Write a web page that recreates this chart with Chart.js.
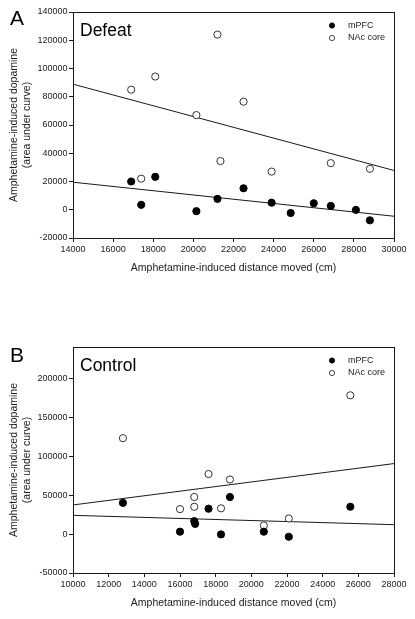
<!DOCTYPE html>
<html>
<head>
<meta charset="utf-8">
<script src="https://cdn.jsdelivr.net/npm/chart.js@4.4.1/dist/chart.umd.min.js"></script>
<style>
  html, body { margin: 0; padding: 0; background: #fff; }
  #wrap { position: relative; width: 415px; height: 619px; }
  canvas { position: absolute; left: 0; }
  #chartA { top: 0; }
  #chartB { top: 335px; }
</style>
</head>
<body>
<div id="wrap">
  <canvas id="chartA" width="415" height="284"></canvas>
  <canvas id="chartB" width="415" height="284"></canvas>
</div>
<script>
// panel A - Defeat
var defeatMpfcX = [16900, 17400, 18100, 20150, 21200, 22500, 23900, 24850, 26000, 26850, 28100, 28800];
var defeatMpfcY = [20000, 3500, 23300, -1000, 7700, 15200, 5000, -2300, 4600, 2700, -100, -7500];
var defeatNacX = [16900, 17400, 18100, 20150, 21200, 21350, 22500, 23900, 26850, 28800];
var defeatNacY = [85000, 22000, 94300, 67000, 124000, 34500, 76500, 27000, 33000, 29000];
var defeatMpfcFitX = [14000, 30000];
var defeatMpfcFitY = [19500, -4600];
var defeatNacFitX = [14000, 30000];
var defeatNacFitY = [88900, 27800];
var defeatXTicks = [14000, 16000, 18000, 20000, 22000, 24000, 26000, 28000, 30000];
var defeatYTicks = [-20000, 0, 20000, 40000, 60000, 80000, 100000, 120000, 140000];

// panel B - Control
var controlMpfcX = [12800, 16000, 16800, 16850, 17600, 18300, 18800, 20700, 22100, 25550];
var controlMpfcY = [40000, 3000, 16500, 13000, 32500, -500, 47500, 3000, -3500, 35000];
var controlNacX = [12800, 16000, 16800, 16800, 17600, 18300, 18800, 20700, 22100, 25550];
var controlNacY = [123000, 32000, 47500, 35000, 77000, 33000, 70000, 11000, 20000, 178000];
var controlMpfcFitX = [10000, 28000];
var controlMpfcFitY = [24000, 12000];
var controlNacFitX = [10000, 28000];
var controlNacFitY = [37300, 90400];
var controlXTicks = [10000, 12000, 14000, 16000, 18000, 20000, 22000, 24000, 26000, 28000];
var controlYTicks = [-50000, 0, 50000, 100000, 150000, 200000];

var seriesNames = ["mPFC", "NAc core"];
var xTitle = "Amphetamine-induced distance moved (cm)";
var yTitle = ["Amphetamine-induced dopamine", "(area under curve)"];

var FONT = "'Liberation Sans', Arial, sans-serif";
var INK = "#1a1a1a";

function pts(xs, ys) {
    return xs.map(function (x, i) { return { x: x, y: ys[i] }; });
}

// frame, panel letter, group name and the little legend
var panelDecor = {
    id: "panelDecor",
    beforeDatasetsDraw: function (chart) {
        var ctx = chart.ctx, a = chart.chartArea;
        ctx.save();
        ctx.strokeStyle = INK;
        ctx.lineWidth = 1;
        ctx.strokeRect(Math.round(a.left) + 0.5, Math.round(a.top) + 0.5,
            Math.round(a.right - a.left), Math.round(a.bottom - a.top));
        ctx.restore();
    },
    afterDraw: function (chart, args, o) {
        var ctx = chart.ctx, a = chart.chartArea;
        ctx.save();
        ctx.fillStyle = "#000";
        ctx.textBaseline = "alphabetic";
        ctx.textAlign = "left";
        ctx.font = "21px " + FONT;
        ctx.fillText(o.letter, 10, o.letterY);
        ctx.font = "17.5px " + FONT;
        ctx.fillText(o.name, a.left + 7, a.top + 24);

        // legend
        ctx.font = "9px " + FONT;
        ctx.textBaseline = "middle";
        var rows = [13.5, 26];
        for (var i = 0; i < 2; i++) {
            var ds = chart.data.datasets[i];
            var cy = a.top + rows[i];
            ctx.beginPath();
            ctx.arc(a.right - 62, cy, 2.6, 0, Math.PI * 2);
            ctx.fillStyle = ds.backgroundColor;
            ctx.fill();
            ctx.lineWidth = 0.9;
            ctx.strokeStyle = ds.borderColor;
            ctx.stroke();
            ctx.fillStyle = INK;
            ctx.fillText(ds.label, a.right - 46, cy);
        }
        ctx.restore();
    }
};

function makeChart(id, p) {
    var ctx = document.getElementById(id);
    return new Chart(ctx, {
        type: "scatter",
        data: {
            datasets: [
                {
                    label: seriesNames[0],
                    data: pts(p.mpfcX, p.mpfcY),
                    backgroundColor: "#000",
                    borderColor: "#000",
                    borderWidth: 1,
                    pointRadius: 3.6,
                    order: 1
                },
                {
                    label: seriesNames[1],
                    data: pts(p.nacX, p.nacY),
                    backgroundColor: "#fff",
                    borderColor: "#333",
                    borderWidth: 1,
                    pointRadius: 3.6,
                    order: 1
                },
                {
                    label: "mPFC fit",
                    data: pts(p.mpfcFitX, p.mpfcFitY),
                    showLine: true,
                    pointRadius: 0,
                    borderColor: INK,
                    borderWidth: 1,
                    order: 2
                },
                {
                    label: "NAc fit",
                    data: pts(p.nacFitX, p.nacFitY),
                    showLine: true,
                    pointRadius: 0,
                    borderColor: INK,
                    borderWidth: 1,
                    order: 2
                }
            ]
        },
        options: {
            responsive: false,
            animation: false,
            layout: { padding: { top: 12, right: 21, left: 0, bottom: 0 } },
            plugins: {
                legend: { display: false },
                tooltip: { enabled: false },
                panelDecor: { letter: p.letter, letterY: p.letterY, name: p.name }
            },
            scales: {
                x: {
                    type: "linear",
                    min: p.xTicks[0],
                    max: p.xTicks[p.xTicks.length - 1],
                    afterBuildTicks: function (scale) {
                        scale.ticks = p.xTicks.map(function (v) { return { value: v }; });
                    },
                    afterFit: function (scale) { scale.height = 46; },
                    grid: { display: true, drawOnChartArea: false, drawTicks: true, tickLength: 4, color: INK },
                    border: { display: false },
                    ticks: {
                        padding: 2.5,
                        color: INK,
                        maxRotation: 0,
                        font: { family: FONT, size: 9 },
                        callback: function (v) { return String(v); }
                    },
                    title: {
                        display: true,
                        text: xTitle,
                        color: INK,
                        font: { family: FONT, size: 10.5, lineHeight: 1.2 },
                        padding: { top: 0, bottom: 9.2 }
                    }
                },
                y: {
                    type: "linear",
                    min: p.yMin,
                    max: p.yMax,
                    afterBuildTicks: function (scale) {
                        scale.ticks = p.yTicks.map(function (v) { return { value: v }; });
                    },
                    afterFit: function (scale) { scale.width = 73; },
                    grid: { display: true, drawOnChartArea: false, drawTicks: true, tickLength: 4, color: INK },
                    border: { display: false },
                    ticks: {
                        padding: 1.5,
                        color: INK,
                        font: { family: FONT, size: 9 },
                        callback: function (v) { return String(v); }
                    },
                    title: {
                        display: true,
                        text: yTitle,
                        color: INK,
                        font: { family: FONT, size: 10.5, lineHeight: 1.3 },
                        padding: { top: 6.9, bottom: 0 }
                    }
                }
            }
        },
        plugins: [panelDecor]
    });
}

makeChart("chartA", {
    mpfcX: defeatMpfcX, mpfcY: defeatMpfcY,
    nacX: defeatNacX, nacY: defeatNacY,
    mpfcFitX: defeatMpfcFitX, mpfcFitY: defeatMpfcFitY,
    nacFitX: defeatNacFitX, nacFitY: defeatNacFitY,
    xTicks: defeatXTicks, yTicks: defeatYTicks,
    yMin: -20000, yMax: 140000,
    letter: "A", letterY: 25, name: "Defeat"
});

makeChart("chartB", {
    mpfcX: controlMpfcX, mpfcY: controlMpfcY,
    nacX: controlNacX, nacY: controlNacY,
    mpfcFitX: controlMpfcFitX, mpfcFitY: controlMpfcFitY,
    nacFitX: controlNacFitX, nacFitY: controlNacFitY,
    xTicks: controlXTicks, yTicks: controlYTicks,
    yMin: -50000, yMax: 240000,
    letter: "B", letterY: 27.3, name: "Control"
});
</script>
</body>
</html>
